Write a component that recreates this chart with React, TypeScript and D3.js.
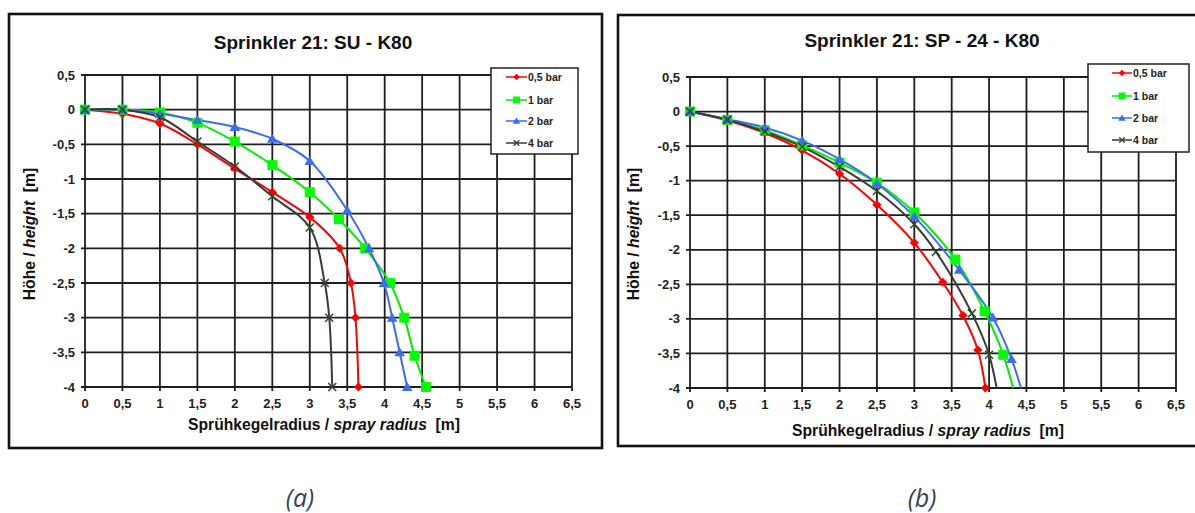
import React from "react";
import * as d3 from "d3";

// ---------- DATA ----------
const X_TICKS = [0, 0.5, 1, 1.5, 2, 2.5, 3, 3.5, 4, 4.5, 5, 5.5, 6, 6.5];
const Y_TICKS = [0.5, 0, -0.5, -1, -1.5, -2, -2.5, -3, -3.5, -4];
const SERIES_NAMES = ["0,5 bar", "1 bar", "2 bar", "4 bar"];

// Panel (a) Sprinkler 21: SU - K80
const suBar05: [number, number][] = [
  [0, 0], [0.5, -0.06], [1, -0.2], [1.5, -0.5], [2, -0.85], [2.5, -1.19],
  [3, -1.55], [3.4, -2.0], [3.55, -2.5], [3.61, -3.0], [3.65, -4.0],
];
const suBar1: [number, number][] = [
  [0, 0], [0.5, 0], [1, -0.04], [1.5, -0.19], [2, -0.46], [2.5, -0.8],
  [3, -1.19], [3.39, -1.58], [3.74, -2.0], [4.07, -2.5], [4.26, -3.0],
  [4.4, -3.55], [4.55, -4.0],
];
const suBar2: [number, number][] = [
  [0, 0], [0.5, 0], [1, -0.06], [1.5, -0.15], [2, -0.25], [2.5, -0.42],
  [3, -0.74], [3.5, -1.45], [3.79, -2.0], [3.99, -2.5], [4.1, -3.0],
  [4.2, -3.5], [4.3, -4.0],
];
const suBar4: [number, number][] = [
  [0, 0], [0.5, 0], [1, -0.11], [1.5, -0.46], [2, -0.82], [2.5, -1.25],
  [3, -1.7], [3.2, -2.5], [3.26, -3.0], [3.3, -4.0],
];

// Panel (b) Sprinkler 21: SP - 24 - K80
const spBar05: [number, number][] = [
  [0, 0], [0.5, -0.13], [1, -0.31], [1.5, -0.56], [2, -0.9], [2.5, -1.35],
  [3, -1.9], [3.38, -2.47], [3.65, -2.95], [3.85, -3.45], [3.95, -4.0],
];
const spBar1: [number, number][] = [
  [0, 0], [0.5, -0.12], [1, -0.27], [1.5, -0.49], [2, -0.74], [2.5, -1.03],
  [3, -1.46], [3.55, -2.14], [3.94, -2.89], [4.19, -3.52], [4.44, -4.5],
];
const spBar2: [number, number][] = [
  [0, 0], [0.5, -0.11], [1, -0.23], [1.5, -0.42], [2, -0.69], [2.5, -1.04],
  [3, -1.52], [3.6, -2.29], [4.05, -2.98], [4.3, -3.58], [4.56, -4.5],
];
const spBar4: [number, number][] = [
  [0, 0], [0.5, -0.12], [1, -0.29], [1.5, -0.51], [2, -0.8], [2.5, -1.15],
  [3, -1.63], [3.29, -2.03], [3.77, -2.92], [4.0, -3.52], [4.18, -4.5],
];

// ---------- STYLES ----------
const COLORS = ["#ff0000", "#00ee00", "#3b6cf2", "#3a3a3a"];
const MARKER_FILL = ["#ff0000", "#00ff00", "#3b6cf2", "#2c4a2c"];
const FONT = "'Liberation Sans', Arial, sans-serif";

type Marker = "diamond" | "square" | "triangle" | "x";
const MARKERS: Marker[] = ["diamond", "square", "triangle", "x"];

function markerPath(kind: Marker, cx: number, cy: number, scale = 1): string {
  const p = d3.path();
  if (kind === "diamond") {
    const r = 4.6 * scale;
    p.moveTo(cx, cy - r); p.lineTo(cx + r, cy); p.lineTo(cx, cy + r); p.lineTo(cx - r, cy); p.closePath();
  } else if (kind === "square") {
    const r = 5 * scale;
    p.rect(cx - r, cy - r, 2 * r, 2 * r);
  } else if (kind === "triangle") {
    const w = 5.3 * scale, h = 5 * scale;
    p.moveTo(cx, cy - h); p.lineTo(cx + w, cy + h * 0.8); p.lineTo(cx - w, cy + h * 0.8); p.closePath();
  } else {
    const r = 4 * scale;
    p.moveTo(cx - r, cy - r); p.lineTo(cx + r, cy + r);
    p.moveTo(cx - r, cy + r); p.lineTo(cx + r, cy - r);
  }
  return p.toString();
}

function fmt(v: number) {
  return String(v).replace(".", ",");
}

interface PanelProps {
  id: string;
  title: string;
  titleX: number;
  titleY: number;
  frame: { x: number; y: number; w: number; h: number };
  plot: { x0: number; x1: number; yTop: number; yBot: number };
  legend: { x: number; y: number; w: number; h: number; lineX0: number; lineX1: number; rows: number[] };
  series: [number, number][][];
  xTitleX: number;
  xTitleY: number;
  yTitleX: number;
  yTitleY: number;
  xLabelY: number;
  caption: string;
  captionX: number;
}

function Panel(props: PanelProps) {
  const { frame, plot, legend } = props;
  const x = d3.scaleLinear().domain([0, 6.5]).range([plot.x0, plot.x1]);
  const y = d3.scaleLinear().domain([0.5, -4]).range([plot.yTop, plot.yBot]);
  const line = d3
    .line<[number, number]>()
    .x((d) => x(d[0]))
    .y((d) => y(d[1]))
    .curve(d3.curveCatmullRom.alpha(0.5));
  const gridColor = "#1e1e1e";
  return (
    <g>
      <defs>
        <clipPath id={`clip-${props.id}`}>
          <rect x={plot.x0 - 20} y={plot.yTop - 20} width={plot.x1 - plot.x0 + 40} height={plot.yBot - plot.yTop + 20} />
        </clipPath>
      </defs>
      <rect x={frame.x} y={frame.y} width={frame.w} height={frame.h} fill="#fff" stroke="#111" strokeWidth={2.6} />
      <text x={props.titleX} y={props.titleY} textAnchor="middle" fontFamily={FONT} fontWeight="bold" fontSize={19} fill="#111">
        {props.title}
      </text>
      {/* grid */}
      {X_TICKS.map((t) => (
        <line key={`gx${t}`} x1={x(t)} x2={x(t)} y1={y(0.5)} y2={y(-4) + 4} stroke={gridColor} strokeWidth={1.8} />
      ))}
      {Y_TICKS.map((t) => (
        <line key={`gy${t}`} x1={x(0) - 4} x2={x(6.5)} y1={y(t)} y2={y(t)} stroke={gridColor} strokeWidth={1.8} />
      ))}
      {/* tick labels */}
      {Y_TICKS.map((t) => (
        <text key={`ly${t}`} x={x(0) - 10} y={y(t) + 4.5} textAnchor="end" fontFamily={FONT} fontWeight="bold" fontSize={13} fill="#222">
          {fmt(t)}
        </text>
      ))}
      {X_TICKS.map((t) => (
        <text key={`lx${t}`} x={x(t)} y={props.xLabelY} textAnchor="middle" fontFamily={FONT} fontWeight="bold" fontSize={13} fill="#222">
          {fmt(t)}
        </text>
      ))}
      {/* axis titles */}
      <text x={props.xTitleX} y={props.xTitleY} textAnchor="middle" fontFamily={FONT} fontWeight="bold" fontSize={15.7} fill="#111">
        Sprühkegelradius / <tspan fontStyle="italic">spray radius</tspan>{"\u00a0\u00a0"}[m]
      </text>
      <text
        transform={`translate(${props.yTitleX},${props.yTitleY}) rotate(-90)`}
        textAnchor="middle"
        fontFamily={FONT}
        fontWeight="bold"
        fontSize={15.7}
        fill="#111"
      >
        Höhe / <tspan fontStyle="italic">height</tspan>{"\u00a0\u00a0"}[m]
      </text>
      {/* series lines */}
      <g clipPath={`url(#clip-${props.id})`}>
        {props.series.map((s, i) => (
          <path key={`s${i}`} d={line(s) || ""} fill="none" stroke={COLORS[i]} strokeWidth={2} />
        ))}
      </g>
      {/* markers */}
      {props.series.map((s, i) =>
        s
          .filter((d) => d[1] >= -4.001)
          .map((d, j) => {
            const k = MARKERS[i];
            return (
              <path
                key={`m${i}-${j}`}
                d={markerPath(k, x(d[0]), y(d[1]))}
                fill={k === "x" ? "none" : MARKER_FILL[i]}
                stroke={k === "x" ? MARKER_FILL[i] : "none"}
                strokeWidth={k === "x" ? 1.5 : 0}
              />
            );
          })
      )}
      {/* legend */}
      <rect x={legend.x} y={legend.y} width={legend.w} height={legend.h} fill="#fff" stroke="#222" strokeWidth={1.5} />
      {SERIES_NAMES.map((name, i) => {
        const ry = legend.rows[i];
        const mx = (legend.lineX0 + legend.lineX1) / 2;
        const k = MARKERS[i];
        return (
          <g key={`lg${i}`}>
            <line x1={legend.lineX0} x2={legend.lineX1} y1={ry} y2={ry} stroke={COLORS[i]} strokeWidth={1.5} />
            <path
              d={markerPath(k, mx, ry, 0.7)}
              fill={k === "x" ? "none" : MARKER_FILL[i]}
              stroke={k === "x" ? MARKER_FILL[i] : "none"}
              strokeWidth={k === "x" ? 1.3 : 0}
            />
            <text x={legend.lineX1 + 1} y={ry + 4} fontFamily={FONT} fontWeight="bold" fontSize={10.5} fill="#222">
              {name}
            </text>
          </g>
        );
      })}
      <text
        x={props.captionX}
        y={507}
        textAnchor="middle"
        fontFamily="'Open Sans', 'DejaVu Sans', sans-serif"
        fontStyle="italic"
        fontSize={25}
        fill="#34435a"
      >
        {props.caption}
      </text>
    </g>
  );
}

export default function App() {
  return (
    <svg width={1195} height={513} style={{ position: "absolute", left: 0, top: 0, background: "#fff" }}>
      <rect x={0} y={0} width={1195} height={513} fill="#fff" />
      <Panel
        id="a"
        title="Sprinkler 21: SU - K80"
        titleX={313}
        titleY={49}
        frame={{ x: 9, y: 14, w: 593, h: 434 }}
        plot={{ x0: 85, x1: 572, yTop: 75, yBot: 387 }}
        legend={{ x: 491, y: 68, w: 87, h: 86, lineX0: 506, lineX1: 527, rows: [77, 100, 121, 143] }}
        series={[suBar05, suBar1, suBar2, suBar4]}
        xTitleX={324}
        xTitleY={430}
        yTitleX={35}
        yTitleY={234}
        xLabelY={408}
        caption="(a)"
        captionX={300}
      />
      <Panel
        id="b"
        title="Sprinkler 21: SP - 24 - K80"
        titleX={922}
        titleY={47}
        frame={{ x: 618, y: 15, w: 590, h: 431 }}
        plot={{ x0: 690, x1: 1176, yTop: 77, yBot: 388 }}
        legend={{ x: 1088, y: 64, w: 101, h: 88, lineX0: 1112, lineX1: 1132, rows: [73, 96, 118, 140] }}
        series={[spBar05, spBar1, spBar2, spBar4]}
        xTitleX={928}
        xTitleY={436}
        yTitleX={639}
        yTitleY={234}
        xLabelY={409}
        caption="(b)"
        captionX={922}
      />
    </svg>
  );
}
